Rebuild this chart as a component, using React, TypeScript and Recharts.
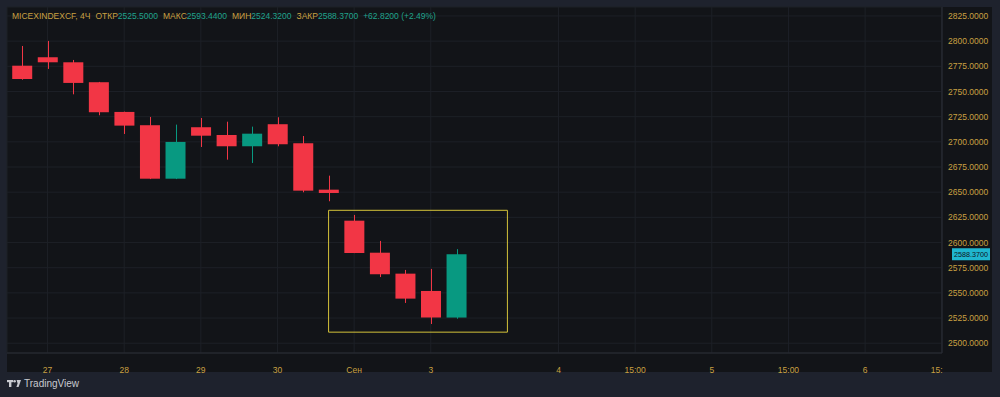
import React from 'react';
import {
  ComposedChart,
  Bar,
  XAxis,
  YAxis,
  CartesianGrid,
  ReferenceArea,
  ReferenceLine,
} from 'recharts';

// 4h candles
const candleIndex = [0, 1, 2, 3, 4, 5, 6, 7, 8, 9, 10, 11, 12, 13, 14, 15, 16, 17];
const opens = [
  2775.6, 2784.0, 2779.0, 2759.2, 2729.7, 2716.5, 2663.4, 2714.5, 2706.8,
  2695.6, 2717.5, 2698.6, 2652.5, 2621.7, 2589.9, 2569.1, 2551.9, 2525.5,
];
const highs = [
  2795.2, 2800.2, 2781.3, 2759.5, 2730.0, 2724.7, 2717.1, 2723.7, 2720.0,
  2715.1, 2724.4, 2705.8, 2666.4, 2627.4, 2601.6, 2572.8, 2573.8, 2593.44,
];
const lows = [
  2761.7, 2772.4, 2747.2, 2726.4, 2707.8, 2663.0, 2663.0, 2694.9, 2682.3,
  2679.0, 2695.6, 2649.9, 2641.0, 2589.5, 2565.7, 2540.0, 2519.1, 2524.32,
];
const closes = [
  2762.4, 2779.0, 2758.5, 2729.4, 2716.1, 2663.4, 2699.9, 2706.1, 2695.6,
  2708.1, 2697.6, 2651.5, 2649.2, 2589.6, 2568.5, 2544.3, 2525.55, 2588.37,
];

const timeTicks = [1, 4, 7, 10, 13, 16, 21, 24, 27, 30, 33, 36];
const timeLabels = ['27', '28', '29', '30', 'Сен', '3', '4', '15:00', '5', '15:00', '6', '15:'];
const priceTicks = [
  2500, 2525, 2550, 2575, 2600, 2625, 2650, 2675, 2700, 2725, 2750, 2775, 2800, 2825,
];

// highlighted box around the last candles
const boxFrom = 12;
const boxTo = 19;
const boxLow = 2511;
const boxHigh = 2632;

const RED = '#f23645';
const GREEN = '#089981';
const GOLD = '#c9a042';
const TEAL = '#20a38c';
const FONT = '"Liberation Sans", Arial, sans-serif';

const data = candleIndex.map((i) => ({
  i,
  open: opens[i],
  high: highs[i],
  low: lows[i],
  close: closes[i],
  range: [lows[i], highs[i]],
}));

const last = data.length - 1;
const change = closes[last] - closes[last - 1];
const changePct = (change / closes[last - 1]) * 100;

function Candle(props: any) {
  const { x, y, width, height, payload } = props;
  const { open, close, high, low } = payload;
  const color = close >= open ? GREEN : RED;
  const ratio = height / (high - low);
  const bodyTop = y + (high - Math.max(open, close)) * ratio;
  const bodyBottom = y + (high - Math.min(open, close)) * ratio;
  const cx = Math.round(x + width / 2) + 0.5;
  return (
    <g>
      <line x1={cx} x2={cx} y1={y} y2={y + height} stroke={color} strokeWidth={1} />
      <rect
        x={x}
        y={bodyTop}
        width={width}
        height={Math.max(bodyBottom - bodyTop, 1)}
        fill={color}
      />
    </g>
  );
}

function TimeTick(props: any) {
  const { x, y, payload } = props;
  const label = timeLabels[timeTicks.indexOf(payload.value)];
  const cut = label === '15:';
  return (
    <text
      x={cut ? x - 11 : x}
      y={y + 12}
      textAnchor={cut ? 'start' : 'middle'}
      fill={GOLD}
      fontSize={8.5}
      fontFamily={FONT}
    >
      {label}
    </text>
  );
}

function PriceTag(props: any) {
  const { viewBox } = props;
  if (!viewBox) return null;
  const left = viewBox.x + viewBox.width + 10;
  return (
    <g>
      <rect x={left} y={viewBox.y - 6} width={38} height={12} fill="#1fb6cf" />
      <text
        x={left + 19}
        y={viewBox.y}
        dy="0.35em"
        textAnchor="middle"
        fill="#10141c"
        fontSize={7.2}
        fontFamily={FONT}
      >
        {closes[last].toFixed(4)}
      </text>
    </g>
  );
}

function Header() {
  const gold = { color: GOLD };
  const teal = { color: TEAL, marginRight: 5 };
  return (
    <div
      style={{
        position: 'absolute',
        left: 12,
        top: 11,
        fontSize: 8.5,
        fontFamily: FONT,
        whiteSpace: 'nowrap',
        lineHeight: '11px',
      }}
    >
      <span style={{ ...gold, marginRight: 5 }}>MICEXINDEXCF, 4Ч</span>
      <span style={gold}>ОТКР</span>
      <span style={teal}>{opens[last].toFixed(4)}</span>
      <span style={gold}>МАКС</span>
      <span style={teal}>{highs[last].toFixed(4)}</span>
      <span style={gold}>МИН</span>
      <span style={teal}>{lows[last].toFixed(4)}</span>
      <span style={gold}>ЗАКР</span>
      <span style={teal}>{closes[last].toFixed(4)}</span>
      <span style={{ color: TEAL }}>
        {'+' + change.toFixed(4) + ' (+' + changePct.toFixed(2) + '%)'}
      </span>
    </div>
  );
}

function Logo() {
  return (
    <div
      style={{
        position: 'absolute',
        left: 7,
        top: 378,
        display: 'flex',
        alignItems: 'center',
        fontFamily: FONT,
        fontSize: 10,
        color: '#c8cad0',
      }}
    >
      <svg width={14} height={7} style={{ marginRight: 3 }}>
        <rect x={0} y={0} width={6} height={2.2} fill="#c8cad0" />
        <rect x={2} y={0} width={2.4} height={7} fill="#c8cad0" />
        <circle cx={7.6} cy={1.3} r={1.3} fill="#c8cad0" />
        <polygon points="9.6,0 14,0 11.6,7 9.4,7 10.6,3.5" fill="#c8cad0" />
      </svg>
      <span>TradingView</span>
    </div>
  );
}

export default function App() {
  return (
    <div
      style={{
        position: 'absolute',
        left: 0,
        top: 0,
        width: 1000,
        height: 397,
        background: '#1e222d',
        overflow: 'hidden',
      }}
    >
      <div
        style={{
          position: 'absolute',
          left: 7,
          top: 7,
          width: 985,
          height: 365,
          background: '#121418',
        }}
      />
      <div style={{ position: 'absolute', left: 0, top: 0 }}>
        <ComposedChart
          width={1000}
          height={397}
          data={data}
          margin={{ top: 7, right: 8, bottom: 25, left: 7 }}
        >
          <CartesianGrid stroke="#1d2027" />
          <XAxis
            dataKey="i"
            type="number"
            domain={[-0.587, 36.01]}
            allowDataOverflow
            ticks={timeTicks}
            interval={0}
            height={19}
            tick={<TimeTick />}
            tickLine={false}
            axisLine={{ stroke: '#2a2d35' }}
          />
          <YAxis
            orientation="right"
            domain={[2490.3, 2833.9]}
            allowDataOverflow
            ticks={priceTicks}
            interval={0}
            width={50}
            tickSize={0}
            tickMargin={6}
            tickLine={false}
            axisLine={{ stroke: '#2a2d35' }}
            tick={{ fill: GOLD, fontSize: 8.5, fontFamily: FONT }}
            tickFormatter={(v: number) => v.toFixed(4)}
          />
          <Bar
            dataKey="range"
            barSize={20}
            shape={<Candle />}
            isAnimationActive={false}
          />
          <ReferenceArea
            x1={boxFrom}
            x2={boxTo}
            y1={boxLow}
            y2={boxHigh}
            fill="none"
            stroke="#d4c23a"
            strokeWidth={1}
          />
          <ReferenceLine y={closes[last]} stroke="none" label={<PriceTag />} />
        </ComposedChart>
      </div>
      <Header />
      <Logo />
    </div>
  );
}
